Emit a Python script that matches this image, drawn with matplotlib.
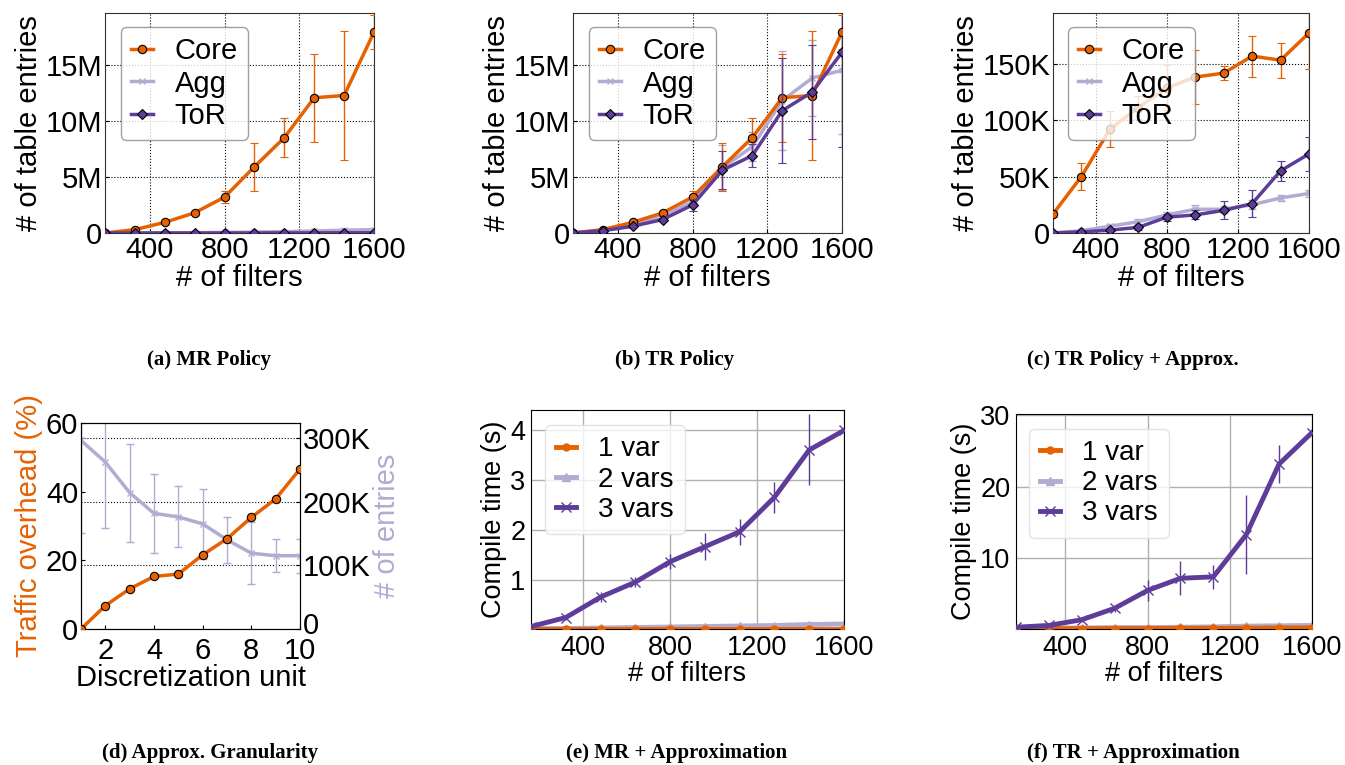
import matplotlib
matplotlib.use("Agg")
import matplotlib.pyplot as plt
import matplotlib.transforms as mtransforms
import numpy as np

plt.rcParams['font.family'] = ['Liberation Sans', 'DejaVu Sans']

ORANGE = '#e66101'
LAV = '#b2abd2'
PURPLE = '#5e3c99'

filters = [160, 320, 480, 640, 800, 960, 1120, 1280, 1440, 1600]

# (a) MR Policy, millions
a_core = [0.0, 0.3, 0.95, 1.8, 3.2, 5.9, 8.5, 12.05, 12.25, 17.9]
a_core_err = [0.0, 0.05, 0.1, 0.15, 0.5, 2.15, 1.75, 3.9, 5.75, 1.5]
a_agg = [0.0, 0.01, 0.02, 0.03, 0.05, 0.08, 0.12, 0.18, 0.25, 0.3]
a_tor = [0.0, 0.0, 0.0, 0.0, 0.0, 0.0, 0.01, 0.01, 0.02, 0.02]

# (b) TR Policy, millions
b_core = [0.0, 0.3, 0.95, 1.8, 3.2, 5.9, 8.5, 12.05, 12.25, 17.9]
b_core_err = [0.0, 0.05, 0.1, 0.15, 0.5, 2.15, 1.75, 3.9, 5.75, 1.5]
b_agg = [0.0, 0.2, 0.8, 1.5, 2.8, 5.8, 7.7, 11.8, 13.8, 14.5]
b_agg_err = [0.0, 0.05, 0.1, 0.15, 0.4, 2.0, 1.3, 4.4, 3.4, 5.7]
b_tor = [0.0, 0.2, 0.6, 1.2, 2.5, 5.6, 6.9, 10.9, 12.55, 16.1]
b_tor_err = [0.0, 0.05, 0.1, 0.15, 0.5, 1.7, 1.0, 4.7, 4.2, 8.4]

# (c) TR Policy + Approx., thousands
c_core = [16.8, 50, 91.8, 111, 128.5, 138, 141.5, 156.5, 153, 177]
c_core_err = [3, 12, 16, 10, 20, 24, 6, 18, 15.5, 32]
c_agg = [0, 2, 6, 10, 16, 21, 21, 25, 31, 35]
c_agg_err = [0.5, 1, 2, 2, 3, 4, 3, 4, 3, 3]
c_tor = [0, 1, 2.5, 5, 14, 16, 20, 26, 55, 70]
c_tor_err = [0.5, 1, 1, 2, 3, 4, 8, 12, 9, 15]

# (d) Approx. Granularity
d_unit = [1, 2, 3, 4, 5, 6, 7, 8, 9, 10]
d_overhead = [0.0, 6.8, 11.7, 15.3, 16.0, 21.6, 26.3, 32.5, 37.9, 46.6]
d_entries = [296, 262, 214, 181.5, 176, 165, 140, 119, 115, 115]  # thousands
d_entries_err = [146, 103, 77, 62, 48, 55, 36, 49, 26, 27]

# (e) MR + Approximation, seconds
e_1var = [0.02, 0.02, 0.02, 0.02, 0.02, 0.02, 0.02, 0.02, 0.02, 0.02]
e_2var = [0.03, 0.03, 0.04, 0.05, 0.06, 0.07, 0.08, 0.09, 0.11, 0.12]
e_3var = [0.07, 0.25, 0.66, 0.96, 1.37, 1.67, 1.97, 2.66, 3.61, 4.0]
e_3var_err = [0.02, 0.05, 0.1, 0.1, 0.15, 0.27, 0.26, 0.31, 0.71, 0.05]

# (f) TR + Approximation, seconds
f_1var = [0.1, 0.15, 0.15, 0.15, 0.15, 0.2, 0.2, 0.2, 0.25, 0.25]
f_2var = [0.15, 0.2, 0.25, 0.3, 0.3, 0.35, 0.4, 0.5, 0.55, 0.6]
f_3var = [0.35, 0.6, 1.4, 3.0, 5.5, 7.2, 7.4, 13.3, 23.2, 27.6]
f_3var_err = [0.1, 0.1, 0.3, 0.5, 1.5, 2.4, 1.7, 5.5, 2.6, 0.5]

captions = ['(a) MR Policy', '(b) TR Policy', '(c) TR Policy + Approx.',
            '(d) Approx. Granularity', '(e) MR + Approximation', '(f) TR + Approximation']

W, H = 1345, 765
fig = plt.figure(figsize=(W / 100, H / 100), dpi=100)


def add_ax(l, r, t, b):
    return fig.add_axes([l / W, 1 - b / H, (r - l) / W, (b - t) / H])


FS = 21


def style_top(ax, yticks, ylabels, ylim):
    ax.set_xlim(160, 1600)
    ax.set_ylim(*ylim)
    ax.set_xticks([400, 800, 1200, 1600])
    ax.set_yticks(yticks)
    ax.set_yticklabels(ylabels)
    ax.tick_params(labelsize=FS, direction='in', length=3, pad=2)
    ax.grid(True, linestyle=':', color='black', linewidth=0.8)
    ax.set_xlabel('# of filters', fontsize=FS, labelpad=0)
    ax.set_ylabel('# of table entries', fontsize=FS, labelpad=2)
    for s in ax.spines.values():
        s.set_color('#333333')


def plot_three(ax, core, core_e, agg, agg_e, tor, tor_e):
    c1 = ax.errorbar(filters, core, yerr=core_e, color=ORANGE, lw=2.5, marker='o', ms=6,
                     mec='black', mew=0.8, capsize=3, elinewidth=1, label='Core', zorder=3)
    c2 = ax.errorbar(filters, agg, yerr=agg_e, color=LAV, lw=2.5, marker='x', ms=4,
                     mew=1, capsize=3, elinewidth=1, label='Agg', zorder=2)
    c3 = ax.errorbar(filters, tor, yerr=tor_e, color=PURPLE, lw=2.5, marker='D', ms=5.5,
                     mec='black', mew=0.8, capsize=3, elinewidth=1, label='ToR', zorder=4)
    leg = ax.legend(handles=[c1.lines[0], c2.lines[0], c3.lines[0]],
                    labels=['Core', 'Agg', 'ToR'],
                    loc='upper left', bbox_to_anchor=(0.058, 0.936), borderaxespad=0,
                    fontsize=FS, handlelength=0.75, handletextpad=0.75, labelspacing=0.15,
                    borderpad=0.35, fancybox=True)
    leg.get_frame().set_edgecolor('#888888')


# (a)
ax = add_ax(105, 374, 13, 233)
plot_three(ax, a_core, a_core_err, a_agg, None, a_tor, None)
style_top(ax, [0, 5, 10, 15], ['0', '5M', '10M', '15M'], (0, 19.6))

# (b)
ax = add_ax(573, 842, 13, 233)
plot_three(ax, b_core, b_core_err, b_agg, b_agg_err, b_tor, b_tor_err)
style_top(ax, [0, 5, 10, 15], ['0', '5M', '10M', '15M'], (0, 19.6))

# (c)
ax = add_ax(1053, 1309, 13, 233)
plot_three(ax, c_core, c_core_err, c_agg, c_agg_err, c_tor, c_tor_err)
style_top(ax, [0, 50, 100, 150], ['0', '50K', '100K', '150K'], (0, 194.7))

# (d)
ax = add_ax(81, 300, 423, 629)
ax2 = ax.twinx()
ax2.errorbar(d_unit, d_entries, yerr=d_entries_err, color=LAV, lw=2.5, marker='x', ms=4,
             mew=1, capsize=3, elinewidth=1, zorder=2)
ax.plot(d_unit, d_overhead, color=ORANGE, lw=2.5, marker='o', ms=6, mec='black', mew=0.8, zorder=3)
ax.set_zorder(ax2.get_zorder() + 1)
ax.patch.set_visible(False)
ax.set_xlim(1, 10)
ax.set_ylim(0, 60)
ax2.set_ylim(0, 323.4)
ax.set_xticks([2, 4, 6, 8, 10])
ax.set_yticks([0, 20, 40, 60])
ax2.set_yticks([0, 100, 200, 300])
ax2.set_yticklabels(['0', '100K', '200K', '300K'])
ax2.yaxis.grid(True, linestyle=':', color='black', linewidth=0.8)
ax.tick_params(labelsize=FS, direction='in', length=3, pad=2)
ax.tick_params(axis='x', pad=6)
ax2.tick_params(labelsize=FS, direction='in', length=3, pad=2)
ax.set_xlabel('Discretization unit', fontsize=FS, labelpad=-1)
ax.set_ylabel('Traffic overhead (%)', fontsize=FS, color=ORANGE, labelpad=2)
ax2.set_ylabel('# of entries', fontsize=FS, color=LAV, labelpad=2)
# nudge the right-hand "0" slightly up so it does not collide with the "10" tick label
fig.canvas.draw()
zero_lbl = ax2.get_yticklabels()[0]
zero_lbl.set_transform(zero_lbl.get_transform() +
                       mtransforms.ScaledTranslation(0, 6 / 100, fig.dpi_scale_trans))


# (e), (f)
FS2 = 19.5


def plot_compile(ax, v1, v2, v3, v3e, ylim, yticks):
    l1, = ax.plot(filters, v1, color=ORANGE, lw=3.5, marker='o', ms=5, zorder=3)
    l2, = ax.plot(filters, v2, color=LAV, lw=3.5, marker='^', ms=6, zorder=2)
    c3 = ax.errorbar(filters, v3, yerr=v3e, color=PURPLE, lw=3.5, marker='x', ms=7, mew=1,
                     elinewidth=1, zorder=4)
    ax.set_xlim(160, 1600)
    ax.set_ylim(*ylim)
    ax.set_xticks([400, 800, 1200, 1600])
    ax.set_yticks(yticks)
    ax.grid(True, color='#b0b0b0', linewidth=1)
    ax.set_axisbelow(True)
    ax.tick_params(labelsize=FS2, length=0, pad=4)
    ax.set_xlabel('# of filters', fontsize=FS2, labelpad=0)
    ax.set_ylabel('Compile time (s)', fontsize=FS2, labelpad=2)
    leg = ax.legend(handles=[l1, l2, c3.lines[0]], labels=['1 var', '2 vars', '3 vars'],
                    loc='upper left', fontsize=20, handlelength=0.7, handletextpad=0.8,
                    labelspacing=0.15, borderpad=0.4, borderaxespad=0,
                    bbox_to_anchor=(0.045, 0.93))
    leg.get_frame().set_edgecolor('#dddddd')


ax = add_ax(531, 844, 410, 629)
plot_compile(ax, e_1var, e_2var, e_3var, e_3var_err, (0.02, 4.41), [1, 2, 3, 4])
ax = add_ax(1016, 1312, 414, 629)
plot_compile(ax, f_1var, f_2var, f_3var, f_3var_err, (0.1, 30.2), [10, 20, 30])

# captions
cap_pos = [(209, 360), (675, 360), (1133, 360), (210, 753), (677, 753), (1133, 753)]
for (cx, cy), txt in zip(cap_pos, captions):
    fig.text(cx / W, 1 - cy / H, txt, ha='center', va='center', fontsize=15,
             fontweight='bold', family=['Liberation Serif', 'DejaVu Serif'])

fig.savefig('out.png', dpi=100)
